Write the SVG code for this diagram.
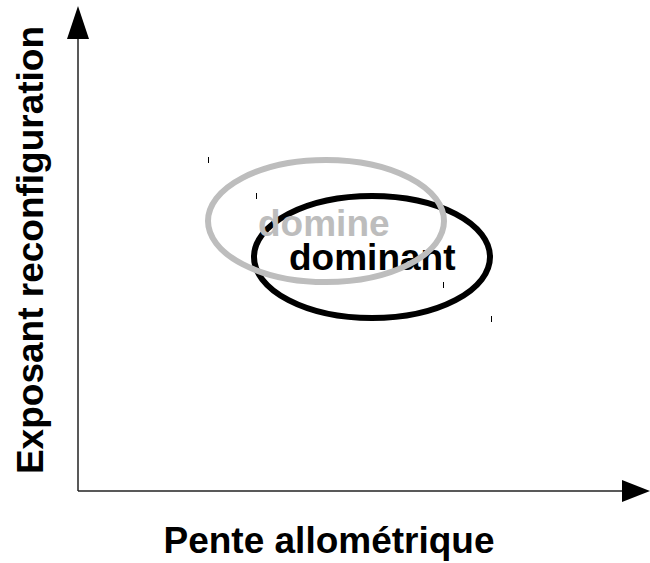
<svg xmlns="http://www.w3.org/2000/svg" width="650" height="563" viewBox="0 0 650 563">
<style>
.lbl{font-family:"Liberation Sans",Arial,sans-serif;font-weight:bold;font-size:37px;fill:#000}
.axis{stroke:#222;stroke-width:1.5;fill:none}
.tick{stroke:#000;stroke-width:1}
.ell{fill:none;stroke-width:6}
</style>
<rect width="650" height="563" fill="#fff"/>
<g id="axes">
<line class="axis" x1="78" y1="491" x2="78" y2="38"/>
<polygon points="78,6 67,39 89,39" fill="#000"/>
<line class="axis" x1="78" y1="491" x2="623" y2="491"/>
<polygon points="650,491 622,480 622,502" fill="#000"/>
</g>
<g id="dominant">
<ellipse class="ell" cx="372" cy="257" rx="118" ry="61" stroke="#000"/>
<line class="tick" x1="256.5" y1="193" x2="256.5" y2="199"/>
<line class="tick" x1="491.5" y1="316" x2="491.5" y2="322"/>
<text class="lbl" x="289" y="270">dominant</text>
</g>
<g id="domine">
<ellipse class="ell" cx="326" cy="221" rx="118" ry="61" stroke="#bdbdbd"/>
<line class="tick" x1="208.5" y1="157" x2="208.5" y2="163"/>
<line class="tick" x1="443.5" y1="282" x2="443.5" y2="288"/>
<text class="lbl" x="258" y="236" style="fill:#bdbdbd">domine</text>
</g>
<g id="labels">
<text class="lbl" x="329" y="553" text-anchor="middle">Pente allométrique</text>
<text class="lbl" transform="translate(43,250) rotate(-90)" text-anchor="middle">Exposant reconfiguration</text>
</g>
</svg>
